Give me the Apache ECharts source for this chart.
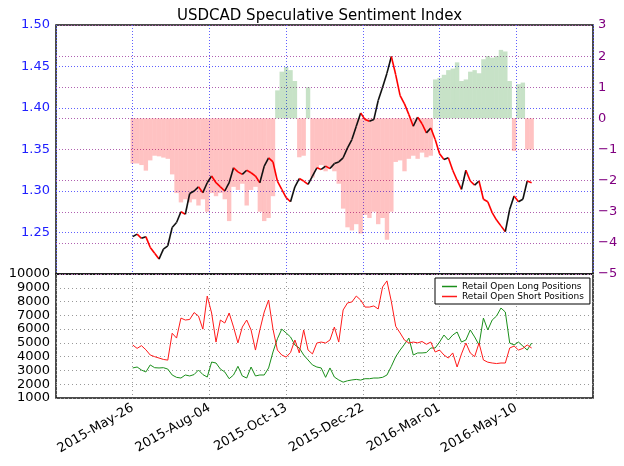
<!DOCTYPE html>
<html><head><meta charset="utf-8">
<script src="https://cdn.jsdelivr.net/npm/echarts@6/dist/echarts.min.js"></script>
<style>html,body{margin:0;padding:0;background:#fff}#c{width:624px;height:466px}</style>
</head><body><div id="c"></div>
<script>
// x values are days counted from 2015-03-17; first data day 2015-05-26 = day 70, one point every 4 days
const firstDay = 70;
const stepDays = 4;
const dateTicks = ['2015-May-26','2015-Aug-04','2015-Oct-13','2015-Dec-22','2016-Mar-01','2016-May-10'];

const price = [1.245,1.248,1.243,1.245,1.232,1.225,1.218,1.230,1.234,1.256,
 1.262,1.275,1.272,1.297,1.300,1.305,1.298,1.310,1.318,1.310,
 1.305,1.300,1.310,1.328,1.323,1.320,1.325,1.322,1.318,1.310,
 1.330,1.340,1.335,1.312,1.302,1.292,1.287,1.305,1.315,1.312,
 1.308,1.318,1.328,1.326,1.330,1.327,1.333,1.335,1.340,1.352,
 1.362,1.378,1.394,1.386,1.384,1.386,1.409,1.425,1.442,1.462,
 1.440,1.415,1.405,1.392,1.378,1.389,1.381,1.370,1.376,1.362,
 1.345,1.338,1.340,1.325,1.313,1.302,1.325,1.312,1.307,1.312,
 1.290,1.287,1.274,1.265,1.258,1.251,1.278,1.294,1.287,1.290,
 1.312,1.310];

const sentiment = [-1.45,-1.45,-1.5,-1.68,-1.35,-1.2,-1.22,-1.26,-1.3,-1.8,
 -2.4,-2.7,-2.6,-2.7,-2.6,-2.8,-2.6,-3.0,-2.4,-2.5,
 -2.4,-2.6,-3.3,-2.2,-2.3,-2.1,-2.8,-2.3,-2.2,-3.0,
 -3.3,-3.2,-2.5,0.9,1.5,1.65,1.55,1.2,-1.25,-1.2,
 1.0,-1.9,-1.6,-1.5,-1.7,-1.6,-1.7,-2.1,-2.9,-3.5,
 -3.6,-3.4,-3.7,-3.1,-3.2,-3.0,-3.4,-3.2,-3.9,-3.0,
 -1.4,-1.35,-1.7,-1.3,-1.2,-1.3,-1.1,-1.25,-1.2,1.25,
 1.3,1.4,1.55,1.6,1.8,1.2,1.25,1.5,1.55,1.45,
 1.9,2.0,1.95,2.0,2.2,2.15,1.2,-1.05,1.1,1.15,
 -1.0,-1.0];

const longPos = [3180,3250,3030,2890,3400,3200,3180,3200,3100,2670,
 2500,2450,2670,2600,2700,3030,2700,2520,3610,3540,
 3100,2890,2400,2670,3300,2600,2450,3250,2600,2670,
 2670,3180,4340,5300,6000,5720,5430,4850,4630,4120,
 3760,3400,3250,3180,2500,3180,2520,2310,2150,2250,
 2310,2350,2300,2400,2400,2450,2450,2500,2670,3300,
 4000,4480,4900,5350,4120,4270,4270,4300,4630,4630,
 5060,5570,5210,5570,5790,5060,5210,5940,5430,4850,
 6800,5940,6660,6950,7530,7240,4990,4850,5060,4770,
 4480,4990];

const shortPos = [4850,4600,4800,4500,4120,4000,3900,3800,3750,5700,
 5350,6800,6660,6700,7200,6950,6000,8400,7170,5060,
 6660,6440,7170,6150,5000,6150,6660,5940,4480,5940,
 7240,8110,6000,4480,4120,3970,4300,5210,4270,5940,
 4480,4200,4990,5060,4990,5210,6150,5060,7390,7900,
 7970,8400,8110,7600,7600,7680,7460,9060,9500,8000,
 6200,5720,5200,4990,5060,5000,5100,4900,5060,4340,
 4480,4120,3900,4270,3250,4200,4990,4270,4000,4990,
 3760,3600,3540,3500,3540,3540,4630,4770,4480,4600,
 4850,4630];

const days = price.map((_, i) => firstDay + stepDays * i);

const FONT = 'DejaVu Sans';
const blueDot = { color: '#6060ff', type: [1, 2], width: 1 };
const purpleDot = { color: '#b060b0', type: [1, 2], width: 1 };
const grayDot = { color: '#999', type: [1, 3], width: 1 };

const priceSegs = [];
for (let i = 1; i < price.length; i++) priceSegs.push([days[i-1], price[i-1], days[i], price[i]]);

const chart = echarts.init(document.getElementById('c'), null, { renderer: 'canvas' });
chart.setOption({
  animation: false,
  backgroundColor: '#fff',
  title: {
    text: 'USDCAD Speculative Sentiment Index',
    left: 172, top: 4,
    textStyle: { fontFamily: FONT, fontSize: 15, fontWeight: 'normal', color: '#000' }
  },
  legend: {
    data: ['Retail Open Long Positions', 'Retail Open Short Positions'],
    orient: 'vertical', left: 435, top: 278,
    padding: [4, 6, 3, 7], itemGap: 1,
    itemWidth: 15, itemHeight: 1.5, icon: 'rect',
    backgroundColor: '#fff', borderColor: '#000', borderWidth: 1,
    textStyle: { fontFamily: FONT, fontSize: 9, color: '#000' }
  },
  grid: [
    { left: 56, right: 31, top: 25, height: 249, show: true, borderColor: '#111', borderWidth: 1.5, backgroundColor: 'transparent' },
    { left: 56, right: 31, top: 274, height: 124, show: true, borderColor: '#111', borderWidth: 1.5, backgroundColor: 'transparent' }
  ],
  xAxis: [
    { type: 'value', gridIndex: 0, min: 0, max: 490, interval: 70,
      axisLabel: { show: false }, axisLine: { show: false }, axisTick: { show: false },
      splitLine: { show: true, lineStyle: blueDot } },
    { type: 'value', gridIndex: 1, min: 0, max: 490, interval: 70,
      axisLine: { show: false }, axisTick: { show: false },
      splitLine: { show: true, lineStyle: grayDot },
      axisLabel: { rotate: 30, margin: 9, fontFamily: FONT, fontSize: 13, color: '#000',
        formatter: v => { const k = (v - firstDay) / 70; return (Number.isInteger(k) && k >= 0 && k < dateTicks.length) ? dateTicks[k] : ''; } } }
  ],
  yAxis: [
    { type: 'value', gridIndex: 0, position: 'left', min: 1.20, max: 1.50, interval: 0.05,
      axisLine: { show: false }, axisTick: { show: false },
      splitLine: { show: true, lineStyle: blueDot },
      axisLabel: { margin: 6, fontFamily: FONT, fontSize: 13, color: '#2020ff',
        formatter: v => v < 1.225 ? '' : v.toFixed(2) } },
    { type: 'value', gridIndex: 0, position: 'right', min: -5, max: 3, interval: 1,
      axisLine: { show: false }, axisTick: { show: false },
      splitLine: { show: true, lineStyle: purpleDot },
      axisLabel: { margin: 5, fontFamily: FONT, fontSize: 13, color: '#800080',
        formatter: v => v < 0 ? '\u2212' + (-v) : String(v) } },
    { type: 'value', gridIndex: 1, min: 1000, max: 10000, interval: 1000,
      axisLine: { show: false }, axisTick: { show: false },
      splitLine: { show: true, lineStyle: grayDot },
      axisLabel: { margin: 6, fontFamily: FONT, fontSize: 13, color: '#000',
        formatter: v => String(Math.round(v)) } }
  ],
  series: [
    { name: 'SSI', type: 'bar', xAxisIndex: 0, yAxisIndex: 1, barWidth: 4.4, z: 1,
      data: sentiment.map((s, i) => ({ value: [days[i], s],
        itemStyle: { color: s >= 0 ? 'rgba(30,140,30,0.25)' : 'rgba(255,0,0,0.24)' } })) },
    { name: 'Price', type: 'custom', xAxisIndex: 0, yAxisIndex: 0, z: 5,
      encode: { x: [0, 2], y: [1, 3] },
      data: priceSegs,
      renderItem: function (params, api) {
        const a = api.coord([api.value(0), api.value(1)]);
        const b = api.coord([api.value(2), api.value(3)]);
        const up = api.value(3) >= api.value(1);
        return { type: 'line', shape: { x1: a[0], y1: a[1], x2: b[0], y2: b[1] },
          style: { stroke: up ? '#111' : '#ff0000', lineWidth: 1.6 } };
      } },
    { name: 'Retail Open Long Positions', type: 'line', xAxisIndex: 1, yAxisIndex: 2,
      showSymbol: false, color: '#1a8f1a', lineStyle: { width: 1, color: '#1a8f1a' },
      data: longPos.map((v, i) => [days[i], v]) },
    { name: 'Retail Open Short Positions', type: 'line', xAxisIndex: 1, yAxisIndex: 2,
      showSymbol: false, color: '#ff1a1a', lineStyle: { width: 1, color: '#ff1a1a' },
      data: shortPos.map((v, i) => [days[i], v]) }
  ]
});
</script></body></html>
